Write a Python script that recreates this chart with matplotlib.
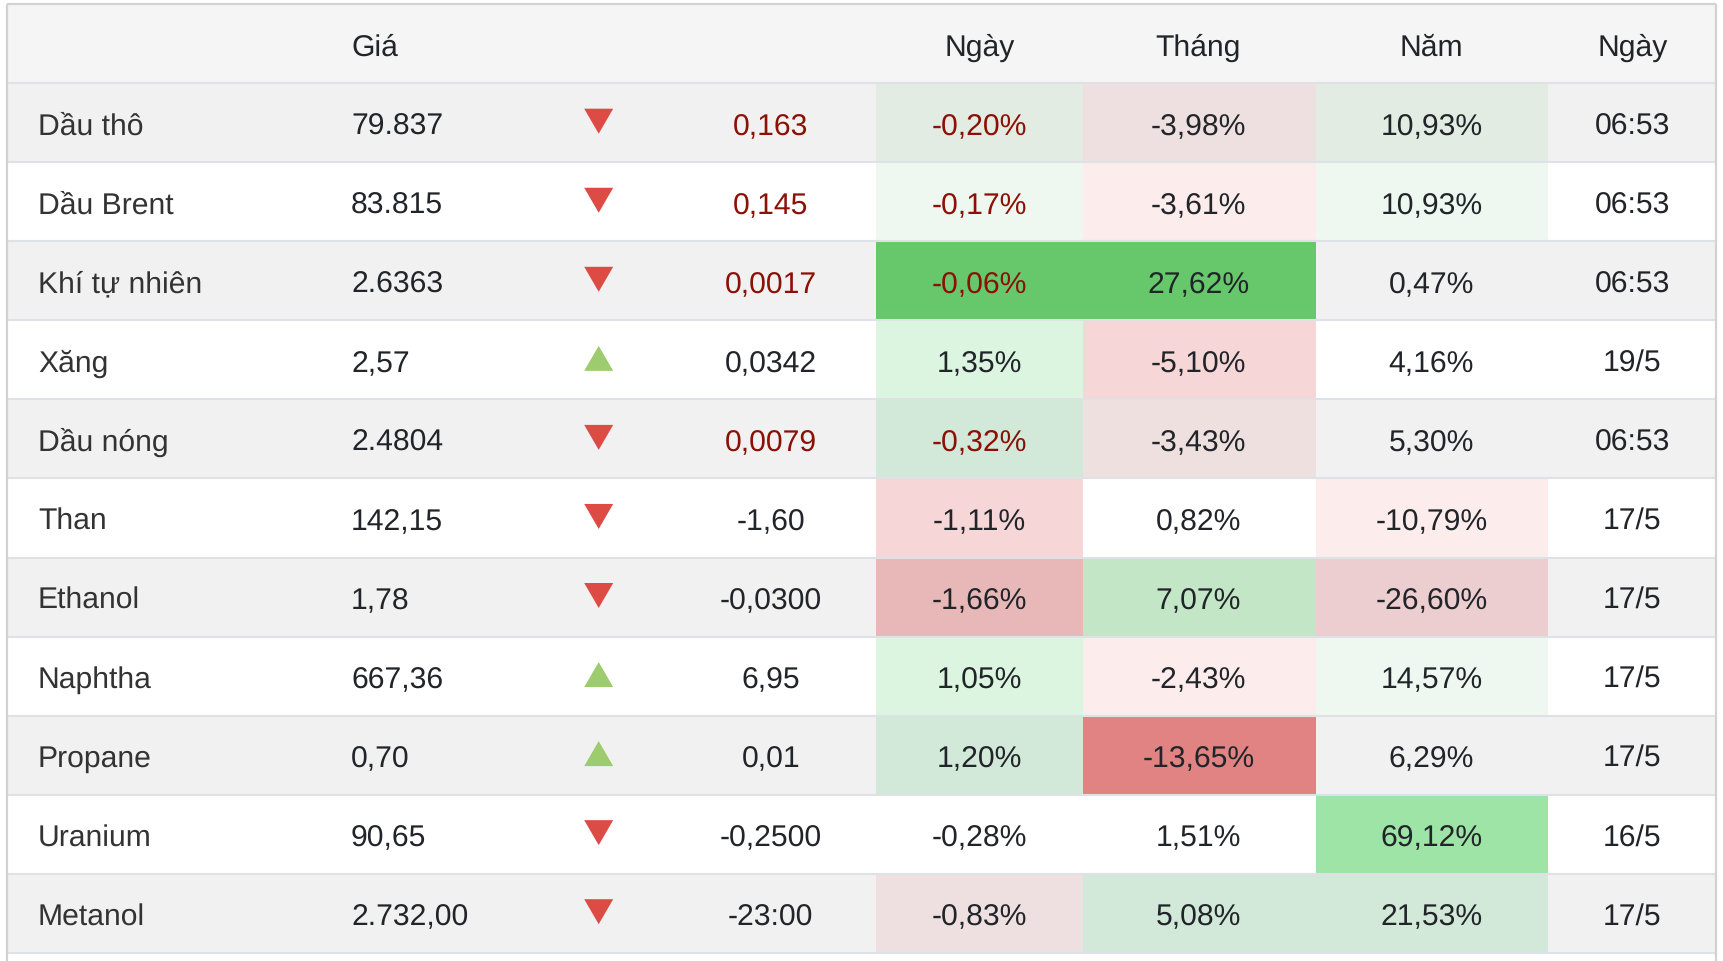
import matplotlib
matplotlib.use("Agg")
import matplotlib.pyplot as plt
from matplotlib.patches import Polygon, Rectangle

plt.rcParams['font.family'] = ['Liberation Sans', 'DejaVu Sans']
plt.rcParams['text.hinting'] = 'no_hinting'

# 数据
headers = ["", "Giá", "", "", "Ngày", "Tháng", "Năm", "Ngày"]
names = ["Dầu thô", "Dầu Brent", "Khí tự nhiên", "Xăng", "Dầu nóng", "Than",
         "Ethanol", "Naphtha", "Propane", "Uranium", "Metanol"]
prices = ["79.837", "83.815", "2.6363", "2,57", "2.4804", "142,15",
          "1,78", "667,36", "0,70", "90,65", "2.732,00"]
trend = ["down", "down", "down", "up", "down", "down", "down", "up", "up", "down", "down"]
changes = ["0,163", "0,145", "0,0017", "0,0342", "0,0079", "-1,60",
           "-0,0300", "6,95", "0,01", "-0,2500", "-23:00"]
day_pct = ["-0,20%", "-0,17%", "-0,06%", "1,35%", "-0,32%", "-1,11%",
           "-1,66%", "1,05%", "1,20%", "-0,28%", "-0,83%"]
month_pct = ["-3,98%", "-3,61%", "27,62%", "-5,10%", "-3,43%", "0,82%",
             "7,07%", "-2,43%", "-13,65%", "1,51%", "5,08%"]
year_pct = ["10,93%", "10,93%", "0,47%", "4,16%", "5,30%", "-10,79%",
            "-26,60%", "14,57%", "6,29%", "69,12%", "21,53%"]
dates = ["06:53", "06:53", "06:53", "19/5", "06:53", "17/5",
         "17/5", "17/5", "17/5", "16/5", "17/5"]
red_rows = [True, True, True, False, True, False, False, False, False, False, False]

# 单元格底色
day_bg = ["#e2ece3", "#eef8f0", "#66c86a", "#dcf5e0", "#d2e8d8", "#f7d6d8",
          "#e8b8b8", "#dcf5e0", "#d2e8d8", None, "#eee0e0"]
month_bg = ["#eee0e0", "#fcecec", "#66c86a", "#f7d6d8", "#eee0de", None,
            "#c2e6c6", "#fcecec", "#e08382", None, "#d2e8d8"]
year_bg = ["#e2ece3", "#eef8f0", None, None, None, "#fcecec",
           "#eccdd0", "#eef8f0", None, "#9ee4a6", "#d2e8d8"]

# 版面（像素）
W, H = 1724, 962
LEFT, RIGHT, TOP = 7, 1716, 5
HEAD_BOTTOM = 84.2
ROW_H = 79.05
FONT = 21.7
DARK = "#212529"
RED = "#8b1006"
col_edges = [876.5, 1083, 1316, 1548]
NAME_X, PRICE_X, ARROW_X, CHANGE_X = 38, 351, 598.7, 770.7
DAY_X, MONTH_X, YEAR_X, DATE_X = 979.6, 1198.5, 1431.5, 1632.2

fig = plt.figure(figsize=(W / 100, H / 100), dpi=100)
ax = fig.add_axes([0, 0, 1, 1])
ax.set_xlim(0, W)
ax.set_ylim(H, 0)
ax.axis('off')


def band(x0, x1, y0, y1, color, z=1):
    ax.add_patch(Rectangle((x0, y0), x1 - x0, y1 - y0, fc=color, ec='none', lw=0, zorder=z))


# 表头
band(LEFT, RIGHT, TOP, HEAD_BOTTOM, "#f5f5f5")
header_x = [None, PRICE_X, None, None, DAY_X, MONTH_X, YEAR_X, DATE_X]
for label, x in zip(headers, header_x):
    if label:
        ax.text(x, 55.5, label, fontsize=FONT, color=DARK, va='baseline',
                ha='left' if x == PRICE_X else 'center', zorder=5)

# 数据行
for i, name in enumerate(names):
    top = HEAD_BOTTOM + i * ROW_H
    bottom = top + ROW_H
    base = top + 50.6
    mid = top + 38
    if i % 2 == 0:
        band(LEFT, RIGHT, top, bottom, "#f1f1f1")
    for j, bg in enumerate([day_bg, month_bg, year_bg]):
        if bg[i]:
            band(col_edges[j], col_edges[j + 1], top, bottom, bg[i], z=2)

    ax.text(NAME_X, base, name, fontsize=FONT, color="#333333", va='baseline', zorder=5)
    ax.text(PRICE_X, base, prices[i], fontsize=FONT, color=DARK, va='baseline', zorder=5)

    if trend[i] == "down":
        pts = [(ARROW_X - 14.5, mid - 12.5), (ARROW_X + 14.5, mid - 12.5), (ARROW_X, mid + 12.5)]
        tri_color = "#dd4b45"
    else:
        pts = [(ARROW_X - 14.5, mid + 12.5), (ARROW_X + 14.5, mid + 12.5), (ARROW_X, mid - 12.5)]
        tri_color = "#9ccc6e"
    ax.add_patch(Polygon(pts, closed=True, fc=tri_color, ec='none', zorder=4))

    c = RED if red_rows[i] else DARK
    ax.text(CHANGE_X, base, changes[i], fontsize=FONT, color=c, ha='center', va='baseline', zorder=5)
    ax.text(DAY_X, base, day_pct[i], fontsize=FONT, color=c, ha='center', va='baseline', zorder=5)
    ax.text(MONTH_X, base, month_pct[i], fontsize=FONT, color=DARK, ha='center', va='baseline', zorder=5)
    ax.text(YEAR_X, base, year_pct[i], fontsize=FONT, color=DARK, ha='center', va='baseline', zorder=5)
    ax.text(DATE_X, base, dates[i], fontsize=FONT, color=DARK, ha='center', va='baseline', zorder=5)

# 网格线和外框
for i in range(len(names) + 1):
    y = HEAD_BOTTOM + i * ROW_H
    ax.plot([LEFT, RIGHT], [y, y], color="#dee2e6", lw=1.5, solid_capstyle='butt', zorder=3)
ax.plot([LEFT, RIGHT], [TOP, TOP], color="#d2d2d2", lw=1.6, solid_capstyle='butt', zorder=6)
ax.plot([LEFT, LEFT], [TOP, H], color="#d2d2d2", lw=1.6, solid_capstyle='butt', zorder=6)
ax.plot([RIGHT, RIGHT], [TOP, H], color="#d2d2d2", lw=1.6, solid_capstyle='butt', zorder=6)

fig.savefig("out.png", dpi=100)
